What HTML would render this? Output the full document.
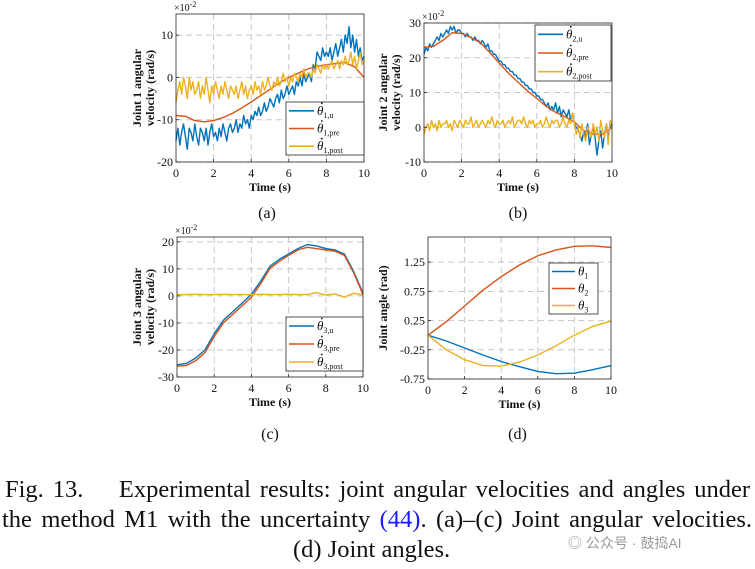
<!DOCTYPE html>
<html><head><meta charset="utf-8">
<style>
html,body{margin:0;padding:0;background:#fff;}
body{width:755px;height:569px;overflow:hidden;position:relative;font-family:"Liberation Serif",serif;}
svg text{font-family:"Liberation Serif",serif;}
.cap{position:absolute;font-size:24.5px;line-height:30px;color:#111;white-space:nowrap;text-align:justify;text-align-last:justify;}
</style></head>
<body>
<svg id="fig" width="755" height="569" style="position:absolute;left:0;top:0"></svg>
<div class="cap" style="top:475px;left:5px;width:745px;">Fig. 13.&nbsp;&nbsp;&nbsp; Experimental results: joint angular velocities and angles under</div>
<div class="cap" style="top:505px;left:2px;width:750px;">the method M1 with the uncertainty <span style="color:#1a1aff">(44)</span>. (a)–(c) Joint angular velocities.</div>
<div class="cap" style="top:535px;left:293px;text-align:left;text-align-last:auto;">(d) Joint angles.</div>
<div style="position:absolute;left:568px;top:533px;font-size:14px;color:#9a9a9a;font-family:'Liberation Sans','Noto Sans CJK SC',sans-serif;">◎ 公众号 · 鼓捣AI</div>
<script>
const BLUE='#0072BD',RED='#D95319',YEL='#EDB120';
// ---- data ----
const tFine=[];for(let i=0;i<=100;i++)tFine.push(i/10);
const tHalf=[];for(let i=0;i<=20;i++)tHalf.push(i/2);
const tUnit=[0,1,2,3,4,5,6,7,8,9,10];
const aBlue=[-15,-12,-16,-13,-11,-14,-17,-12,-13,-15,-11,
-14,-16,-12,-13,-15,-12,-16,-13,-11,-14,
-13,-15,-12,-14,-11,-13,-15,-12,-11,-13,
-12,-10,-13,-11,-12,-9,-11,-10,-12,-9,
-10,-8,-9,-7,-9,-8,-6,-8,-7,-5,
-6,-7,-5,-4,-6,-3,-5,-4,-2,-4,
-3,-2,-4,-1,-2,0,-2,1,-1,0,
1,-1,3,2,6,5,4,7,5,6,
5,7,4,6,8,5,7,9,6,10,
8,12,7,10,6,9,5,7,4,5];
const aYel=[-6,-3,-1,-4,0,-2,-5,0,-3,-1,-4,
-3,-1,-5,-2,-4,0,-3,-6,-2,-4,
-1,-3,-5,-2,-4,-1,-3,-5,-2,-3,
-4,-2,-5,-3,-1,-4,-2,-5,-3,-2,
-4,-1,-3,-2,-4,-1,-3,-2,0,-2,
-3,-1,-2,0,-2,-1,1,-1,0,-2,
0,-1,1,0,-1,1,0,2,0,1,
1,0,2,1,3,2,1,3,2,3,
2,3,4,2,3,4,2,4,3,5,
3,4,6,3,5,2,4,6,3,4];
const aRed=[-9,-9.2,-10.2,-10.5,-10.2,-9.5,-8.5,-7.2,-5.8,-4.3,-2.8,-1.3,0,1,2,2.6,3,3.3,3.5,2.5,0];
const bBlue=[21,23,22,24,23,24,25,26,25,27,26,
27,28,27,29,28,29,27,28,28,27,
27,26,27,26,26,25,26,25,25,24,
25,24,23,24,22,22,21,21,20,19,
19,18,18,17,17,16,16,15,15,14,
14,13,13,12,12,11,11,10,10,9,
9,8,8,7,6,7,5,6,5,7,
4,6,3,5,4,3,5,2,4,1,
0,-1,-2,-4,-1,-3,1,-5,-2,0,
-3,-8,-4,-1,-6,-2,1,-3,0,1];
const bYel=[-2,0,1,-1,2,0,1,-1,2,0,1,
1,2,0,1,-1,2,1,0,2,1,
0,2,1,1,3,0,1,2,0,1,
2,1,0,2,1,3,1,0,2,1,
1,2,0,1,2,1,3,0,1,2,
2,1,3,1,0,2,1,2,0,1,
1,2,0,1,3,1,0,2,1,2,
2,0,1,3,1,0,2,1,4,1,
-2,0,-3,1,-2,-4,0,-1,-3,1,
-2,0,-4,2,-1,-3,1,-5,2,1];
const bRed=[23,23.3,25,27.2,27,25.8,24.3,21.5,18.5,15.5,13,10.5,8.3,6,4.3,3,1.5,-1,-2,-2,0];
const cBlue=[-25.5,-25,-23,-20,-14,-9,-5.8,-2.7,0.6,5.5,11,13.5,15.5,17.5,19,18.5,17.5,17,15.5,9,1];
const cRed=[-26,-25.8,-24,-21,-15,-10,-6.8,-3.7,-0.5,4.5,10.2,12.8,15,17,18,17.5,17,16.5,15,8.5,0.5];
const cYel=[0.5,0.5,0.6,0.5,0.5,0.6,0.5,0.5,0.5,0.6,0.5,0.5,0.6,0.5,0.5,1.2,0.3,0.8,-0.5,1,0.3];
const dTh1=[0,-0.1,-0.22,-0.34,-0.45,-0.54,-0.62,-0.66,-0.65,-0.59,-0.52];
const dTh2=[0,0.23,0.5,0.77,1.0,1.2,1.36,1.46,1.52,1.53,1.5];
const dTh3=[0,-0.25,-0.42,-0.52,-0.53,-0.46,-0.34,-0.18,0,0.15,0.24];
const xTicks=[0,2,4,6,8,10];
const aYTicks=[-20,-10,0,10];
const bYTicks=[-10,0,10,20,30];
const cYTicks=[-30,-20,-10,0,10,20];
const dYTicks=[-0.75,-0.25,0.25,0.75,1.25];
const dYLabels=['-0.75','-0.25','0.25','0.75','1.25'];

const NS='http://www.w3.org/2000/svg';
const svg=document.getElementById('fig');
function mk(tag,attrs,parent){const e=document.createElementNS(NS,tag);for(const k in attrs)e.setAttribute(k,attrs[k]);(parent||svg).appendChild(e);return e;}

function panel(p){
  const g=mk('g',{});
  
  
  const X=v=>p.x0+(v-0)/(10-0)*(p.x1-p.x0);
  const Y=v=>p.y1-(v-p.ymin)/(p.ymax-p.ymin)*(p.y1-p.y0);
  xTicks.forEach(t=>{if(t>0&&t<10){const l=mk('line',{x1:X(t),x2:X(t),y1:p.y0,y2:p.y1,stroke:'#c8c8c8','stroke-dasharray':'6,4','stroke-width':1},g);}});
  p.yticks.forEach(t=>{const l=mk('line',{x1:p.x0,x2:p.x1,y1:Y(t),y2:Y(t),stroke:'#c8c8c8','stroke-dasharray':'6,4','stroke-width':1},g);});
  p.series.forEach(s=>{
    const pts=s.x.map((xv,i)=>X(xv).toFixed(1)+','+Y(s.y[i]).toFixed(1)).join(' ');
    const pl=mk('polyline',{points:pts,fill:'none',stroke:s.c,'stroke-width':1.4,'stroke-linejoin':'round'},g);
    
    
  });
  const fr=mk('rect',{x:p.x0,y:p.y0,width:p.x1-p.x0,height:p.y1-p.y0,fill:'none',stroke:'#262626','stroke-width':0.8},g);
  
  
  xTicks.forEach(t=>{
    mk('line',{x1:X(t),x2:X(t),y1:p.y1,y2:p.y1-3,stroke:'#262626','stroke-width':0.8},g);
    const tx=mk('text',{x:X(t),y:p.y1+15,'font-size':12,'text-anchor':'middle',fill:'#111'},g);tx.textContent=t;
    
    
  });
  p.yticks.forEach((t,i)=>{
    mk('line',{x1:p.x0,x2:p.x0+3,y1:Y(t),y2:Y(t),stroke:'#262626','stroke-width':0.8},g);
    const tx=mk('text',{x:p.x0-3,y:Y(t)+4,'font-size':12,'text-anchor':'end',fill:'#111'},g);tx.textContent=p.ylabels?p.ylabels[i]:t;
    
    
  });
  if(p.exp){const e=mk('text',{x:p.x0-2,y:p.y0-3,'font-size':10,fill:'#111'},g);e.innerHTML='×10<tspan dy="-4" font-size="8">-2</tspan>';}
  const xt=mk('text',{x:(p.x0+p.x1)/2,y:p.y1+29,'font-size':12,'font-weight':'bold','text-anchor':'middle',fill:'#111'},g);xt.textContent='Time (s)';
  
  
  const yt=mk('text',{transform:`translate(${p.ylx},${(p.y0+p.y1)/2}) rotate(-90)`,'font-size':12,'font-weight':'bold','text-anchor':'middle',fill:'#111'},g);
  
  
  p.ylab.forEach((s,i)=>{const ts=mk('tspan',{x:0,dy:i?13:0},yt);ts.textContent=s;});
  const L=p.leg;
  const lr=mk('rect',{x:L.x,y:L.y,width:L.w,height:L.h,fill:'#fff',stroke:'#262626','stroke-width':0.8},g);
  
  
  p.series.forEach((s,i)=>{
    const cy=L.y+L.h*(i+0.5)/3;
    const ll=mk('line',{x1:L.x+3,x2:L.x+L.line,y1:cy,y2:cy,stroke:s.c,'stroke-width':1.6},g);
    
    
    const tx=mk('text',{x:L.x+L.line+3,y:cy+4,'font-size':13,fill:'#111'},g);
    
    
    tx.innerHTML=`<tspan font-style="italic">θ</tspan><tspan dy="3" font-size="8">${s.sub}</tspan>`;
    if(s.dot){
      const d=mk('circle',{cx:L.x+L.line+7.8,cy:cy-7.5,r:0.9,fill:'#111'},g);
      
      
    }
  });
  const cp=mk('text',{x:(p.x0+p.x1)/2+p.capdx,y:p.capy,'font-size':16,'text-anchor':'middle',fill:'#111'},g);cp.textContent=p.cap;
  
  
}

panel({name:'panel-a-joint1-velocity',x0:176,x1:364,y0:14,y1:162,ymin:-20,ymax:15,yticks:aYTicks,exp:true,ylx:141,ylab:['Joint 1 angular','velocity (rad/s)'],
  series:[{x:tFine,y:aBlue,c:BLUE,n:'theta1-u-line',dot:1,sub:'1,u'},{x:tHalf,y:aRed,c:RED,n:'theta1-pre-line',dot:1,sub:'1,pre'},{x:tFine,y:aYel,c:YEL,n:'theta1-post-line',dot:1,sub:'1,post'}],
  leg:{x:286,y:102,w:78,h:53,line:28},cap:'(a)',capy:218,capdx:-3});
panel({name:'panel-b-joint2-velocity',x0:424,x1:612,y0:23,y1:162,ymin:-10,ymax:30,yticks:bYTicks,exp:true,ylx:387,ylab:['Joint 2 angular','velocity (rad/s)'],
  series:[{x:tFine,y:bBlue,c:BLUE,n:'theta2-u-line',dot:1,sub:'2,u'},{x:tHalf,y:bRed,c:RED,n:'theta2-pre-line',dot:1,sub:'2,pre'},{x:tFine,y:bYel,c:YEL,n:'theta2-post-line',dot:1,sub:'2,post'}],
  leg:{x:535,y:25,w:76,h:56,line:28},cap:'(b)',capy:218,capdx:0});
panel({name:'panel-c-joint3-velocity',x0:177,x1:363,y0:237,y1:377,ymin:-30,ymax:21.8,yticks:cYTicks,exp:true,ylx:141,ylab:['Joint 3 angular','velocity (rad/s)'],
  series:[{x:tHalf,y:cBlue,c:BLUE,n:'theta3-u-line',dot:1,sub:'3,u'},{x:tHalf,y:cRed,c:RED,n:'theta3-pre-line',dot:1,sub:'3,pre'},{x:tHalf,y:cYel,c:YEL,n:'theta3-post-line',dot:1,sub:'3,post'}],
  leg:{x:286,y:317,w:77,h:54,line:28},cap:'(c)',capy:439,capdx:0});
panel({name:'panel-d-joint-angles',x0:428,x1:611,y0:237,y1:379,ymin:-0.75,ymax:1.68,yticks:dYTicks,ylabels:dYLabels,exp:false,ylx:387,ylab:['Joint angle (rad)'],
  series:[{x:tUnit,y:dTh1,c:BLUE,n:'theta1-line',dot:0,sub:'1'},{x:tUnit,y:dTh2,c:RED,n:'theta2-line',dot:0,sub:'2'},{x:tUnit,y:dTh3,c:YEL,n:'theta3-line',dot:0,sub:'3'}],
  leg:{x:549,y:263,w:49,h:51,line:26},cap:'(d)',capy:439,capdx:-2});
</script>
</body></html>
